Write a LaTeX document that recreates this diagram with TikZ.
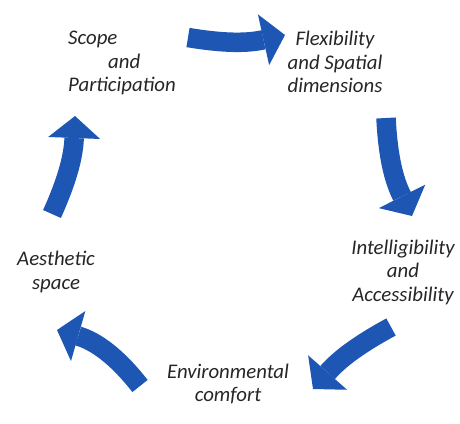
\documentclass[tikz,border=0pt]{standalone}
\usepackage{fontspec}
\setmainfont{Carlito}
\usetikzlibrary{arrows.meta, backgrounds}
\definecolor{cycleblue}{RGB}{30,86,180}

\begin{document}
\begin{tikzpicture}[
  x=1pt, y=1pt,
  background rectangle/.style={fill=white},
  show background rectangle,
  inner frame sep=0pt,
  every node/.style={
    text=black!85,
    font=\fontsize{20.8}{23.5}\selectfont\itshape,
    align=center,
    inner sep=0pt
  },
  cyc/.style={
    draw=cycleblue,
    line width=19.5pt,
    -{Triangle[length=22pt, width=52pt, line width=0pt]}
  },
]

\useasboundingbox (0,0) rectangle (460,-423);

\node (scope) [anchor=west, align=left] at (68,-63) {Scope\\\hspace*{40pt}and\\Participation};
\node (flex) at (335,-62) {Flexibility\\and Spatial\\dimensions};
\node (intel) at (403,-272) {Intelligibility\\and\\Accessibility};
\node (env) at (228,-384) {Environmental\\comfort};
\node (aes) at (56,-272) {Aesthetic\\space};

% arrow ends
\coordinate (s1) at (188,-37.5);
\coordinate (e1) at (285,-35);
\coordinate (s2) at (386,-118);
\coordinate (e2) at (412,-216);
\coordinate (s3) at (391,-327);
\coordinate (e3) at (313,-389);
\coordinate (s4) at (140,-386);
\coordinate (e4) at (57,-330);
\coordinate (s5) at (52,-214);
\coordinate (e5) at (75,-116);

\draw[cyc] (s1) to[bend right=11] (e1);
\draw[cyc] (s2) to[bend right=12] (e2);
\draw[cyc] (s3) to[bend right=10] (e3);
\draw[cyc] (s4) to[bend right=18] (e4);
\draw[cyc] (s5) to[bend right=11] (e5);

\end{tikzpicture}
\end{document}
